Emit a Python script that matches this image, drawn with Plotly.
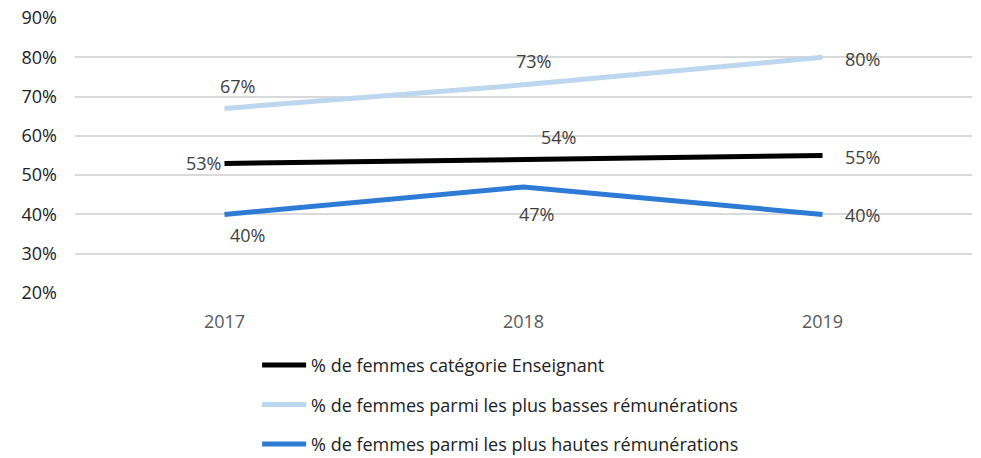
import plotly.graph_objects as go

years = ["2017", "2018", "2019"]
enseignant = [53, 54, 55]
basses = [67, 73, 80]
hautes = [40, 47, 40]
names = [
    "% de femmes catégorie Enseignant",
    "% de femmes parmi les plus basses rémunérations",
    "% de femmes parmi les plus hautes rémunérations",
]
y_ticks = [20, 30, 40, 50, 60, 70, 80, 90]

colors = ["#000000", "#BDD7EE", "#2E7BD6"]
series = [enseignant, basses, hautes]
# label offsets (xshift, yshift, xanchor) per series per point
label_pos = [
    [(-2, 0, "right"), (35, 22, "center"), (20, -1, "left")],
    [(13, 22, "center"), (10, 24, "center"), (20, -2, "left")],
    [(23, -21, "center"), (13, -27, "center"), (20, -1, "left")],
]

FONT = "Open Sans"
FS = 18
fig = go.Figure()
for i, (vals, name, col) in enumerate(zip(series, names, colors)):
    fig.add_trace(go.Scatter(
        x=years, y=vals, name=name, mode="lines",
        line=dict(color=col, width=5), legendgroup=f"g{i}",
        hoverinfo="skip",
    ))
    for j, v in enumerate(vals):
        xs, ys, xa = label_pos[i][j]
        fig.add_annotation(
            x=j, y=v, xref="x", yref="y", text=f"{v}%", showarrow=False,
            xshift=xs, yshift=ys, xanchor=xa, yanchor="middle",
            font=dict(family=FONT, size=FS, color="#404040"),
        )

fig.update_layout(
    width=981, height=458,
    margin=dict(l=75, r=9, t=18, b=165, autoexpand=False),
    plot_bgcolor="white", paper_bgcolor="white",
    font=dict(family=FONT, size=FS, color="#222222"),
    showlegend=True,
    legend=dict(
        orientation="v",
        x=0.203, xanchor="left", y=-0.196, yanchor="top",
        font=dict(family=FONT, size=FS, color="#222222"),
        tracegroupgap=13, itemwidth=44,
    ),
    xaxis=dict(
        type="category", range=[-0.5, 2.5], showgrid=False, zeroline=False,
        showline=False, ticks="", automargin=False, ticklabelstandoff=16,
        tickfont=dict(family=FONT, size=FS, color="#595959"),
    ),
    yaxis=dict(
        range=[20, 90.02], tickvals=y_ticks, ticktext=[f"{t}%" for t in y_ticks],
        showgrid=True, gridcolor="#D9D9D9", gridwidth=1.5, zeroline=False,
        showline=False, ticks="", ticklabelstandoff=17, automargin=False,
        ticklabeloverflow="allow",
        tickfont=dict(family=FONT, size=FS, color="#222222"),
    ),
)

fig.write_html(
    "out.html",
    config={"displayModeBar": False},
    post_script="document.body.style.margin='0';",
)
